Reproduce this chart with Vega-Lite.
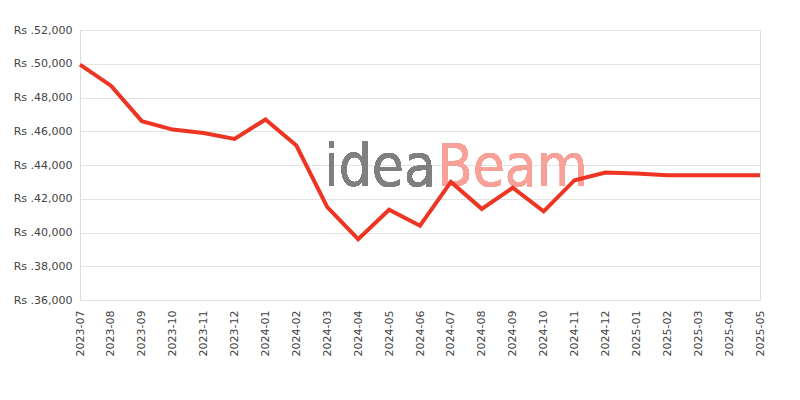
{
  "$schema": "https://vega.github.io/schema/vega-lite/v6.json",
  "width": 680,
  "height": 270,
  "autosize": "none",
  "padding": {"left": 80, "top": 30, "right": 40, "bottom": 100},
  "background": "white",
  "config": {
    "view": {"stroke": "#dddddd", "strokeWidth": 1},
    "font": "DejaVu Sans"
  },
  "data": {
    "values": [
      {"month": "2023-07", "price": 49950},
      {"month": "2023-08", "price": 48700},
      {"month": "2023-09", "price": 46600},
      {"month": "2023-10", "price": 46100},
      {"month": "2023-11", "price": 45900},
      {"month": "2023-12", "price": 45550},
      {"month": "2024-01", "price": 46700},
      {"month": "2024-02", "price": 45150},
      {"month": "2024-03", "price": 41500},
      {"month": "2024-04", "price": 39600},
      {"month": "2024-05", "price": 41350},
      {"month": "2024-06", "price": 40400},
      {"month": "2024-07", "price": 43000},
      {"month": "2024-08", "price": 41400},
      {"month": "2024-09", "price": 42650},
      {"month": "2024-10", "price": 41250},
      {"month": "2024-11", "price": 43100},
      {"month": "2024-12", "price": 43550},
      {"month": "2025-01", "price": 43500},
      {"month": "2025-02", "price": 43400},
      {"month": "2025-03", "price": 43400},
      {"month": "2025-04", "price": 43400},
      {"month": "2025-05", "price": 43400}
    ]
  },
  "encoding": {
    "x": {
      "field": "month",
      "type": "ordinal",
      "scale": {"type": "point", "padding": 0},
      "axis": {
        "title": null,
        "labelAngle": -90,
        "labelFontSize": 11,
        "labelColor": "#444444",
        "labelPadding": 10,
        "ticks": false,
        "domain": false,
        "grid": false
      }
    },
    "y": {
      "field": "price",
      "type": "quantitative",
      "scale": {"domain": [36000, 52000]},
      "axis": {
        "title": null,
        "values": [36000, 38000, 40000, 42000, 44000, 46000, 48000, 50000, 52000],
        "labelExpr": "'Rs .' + format(datum.value, ',')",
        "labelFontSize": 11,
        "labelColor": "#444444",
        "labelPadding": 8,
        "ticks": false,
        "domain": false,
        "gridColor": "#e3e3e3"
      }
    }
  },
  "layer": [
    {
      "mark": {
        "type": "text",
        "text": "idea",
        "font": "DejaVu Sans Condensed",
        "fontSize": 58,
        "align": "right",
        "baseline": "alphabetic",
        "color": "#7f7f7f",
        "dx": -15
      },
      "encoding": {
        "x": {"datum": "2024-07"},
        "y": {"datum": 42770}
      }
    },
    {
      "mark": {
        "type": "text",
        "text": "Beam",
        "font": "DejaVu Sans Condensed",
        "fontSize": 58,
        "align": "left",
        "baseline": "alphabetic",
        "color": "#f7a199",
        "dx": -14
      },
      "encoding": {
        "x": {"datum": "2024-07"},
        "y": {"datum": 42770}
      }
    },
    {
      "mark": {"type": "line", "color": "#ee3524", "strokeWidth": 4}
    }
  ]
}
